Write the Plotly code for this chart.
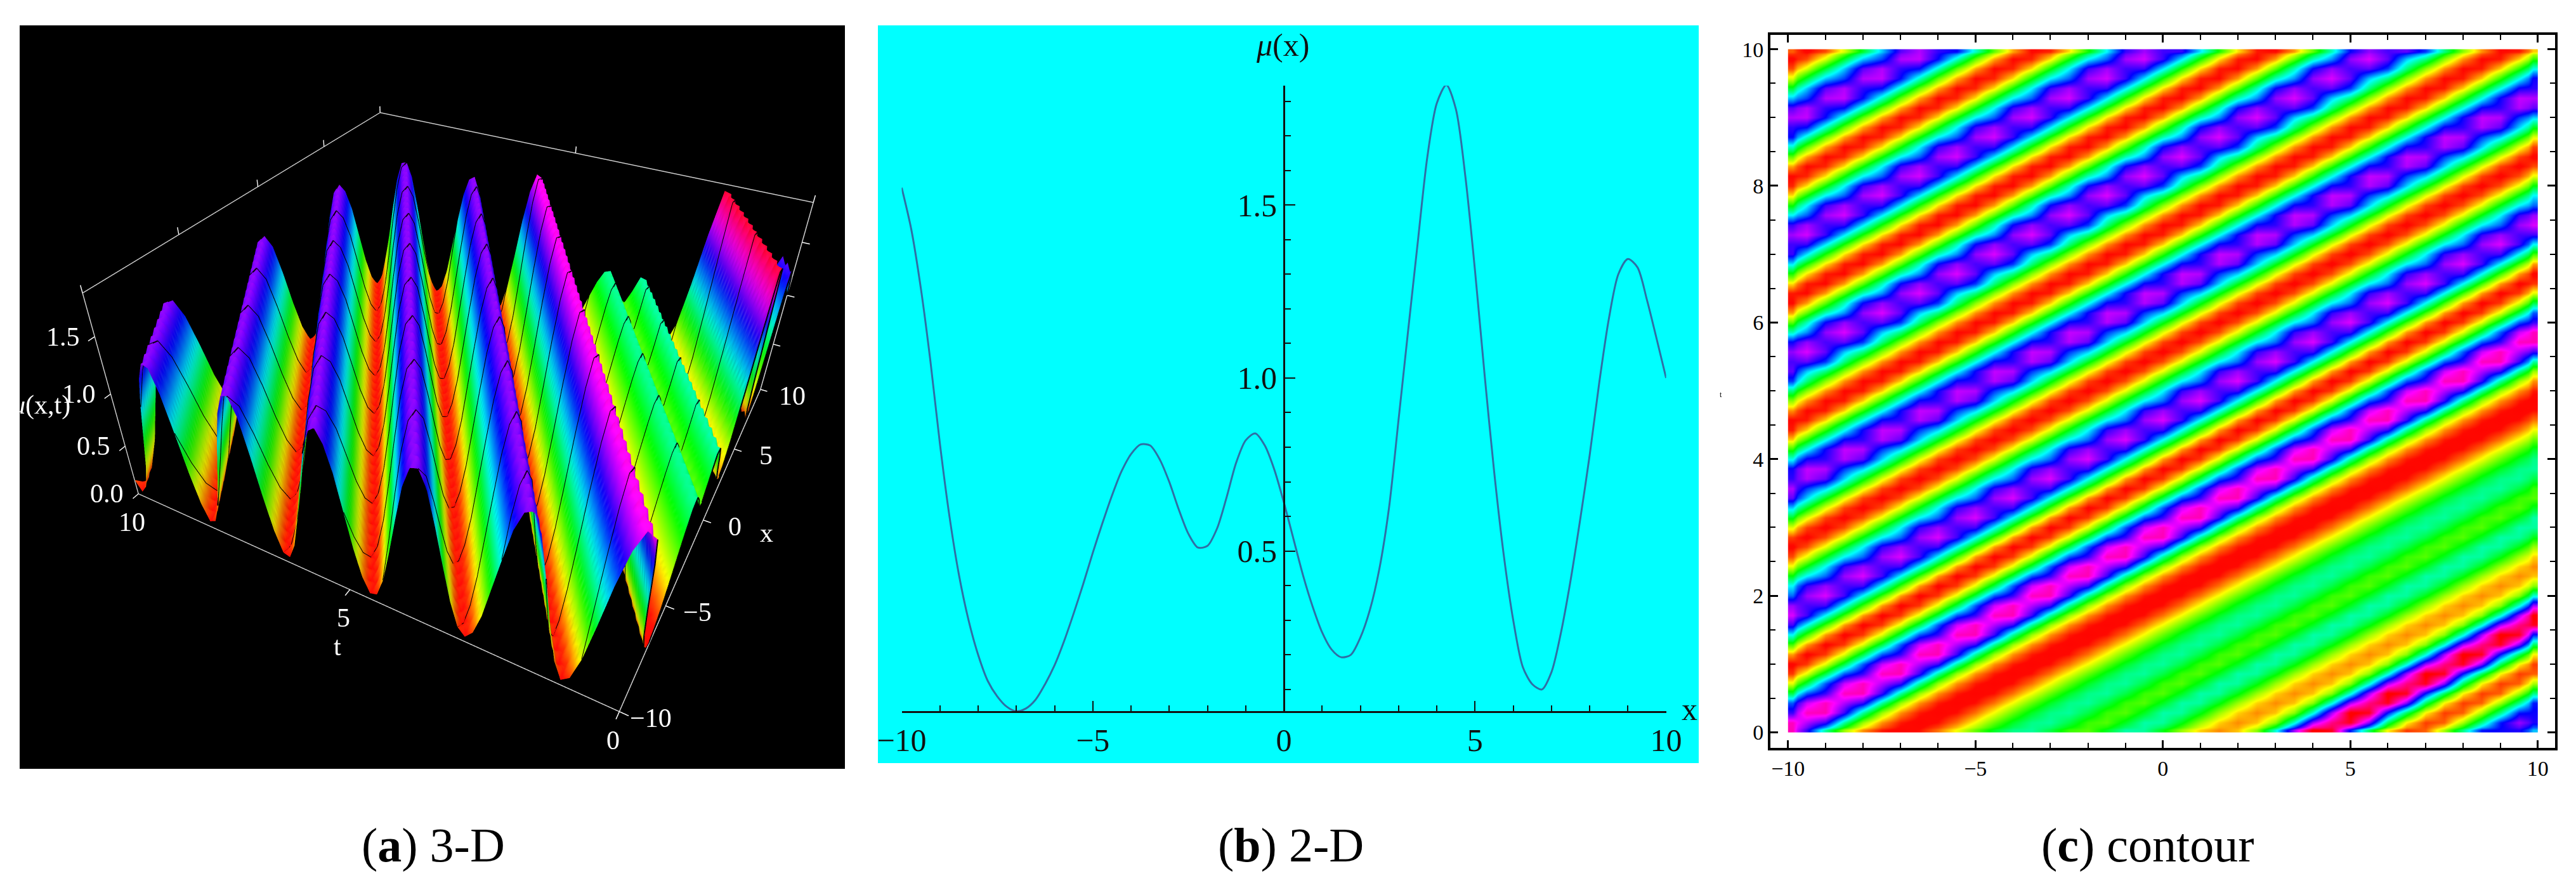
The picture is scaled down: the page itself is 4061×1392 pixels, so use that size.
import plotly.graph_objects as go

W, H = 4061, 1392

# mu(x), x = -10 ... 10 in steps of 0.25
curve_x = [i * 0.25 - 10 for i in range(81)]
curve_values = [1.55, 1.43, 1.26, 1.05, 0.81, 0.60, 0.43, 0.30, 0.20, 0.125, 0.08, 0.05,
                0.037, 0.045, 0.07, 0.115, 0.17, 0.24, 0.32, 0.405, 0.495, 0.58, 0.66, 0.73,
                0.78, 0.808, 0.805, 0.765, 0.70, 0.62, 0.55, 0.51, 0.515, 0.565, 0.655, 0.755,
                0.82, 0.84, 0.805, 0.735, 0.64, 0.535, 0.43, 0.34, 0.265, 0.215, 0.193, 0.20,
                0.25, 0.33, 0.45, 0.625, 0.88, 1.137, 1.39, 1.637, 1.794, 1.847, 1.777, 1.58,
                1.31, 1.01, 0.73, 0.49, 0.30, 0.165, 0.115, 0.10, 0.15, 0.265, 0.415, 0.59,
                0.777, 0.986, 1.17, 1.30, 1.344, 1.32, 1.225, 1.114, 1.0]
# heights read across the diagonal stripes of panel (c) that lie beyond the curve above
upstream_values = [0.15, 0.05, 0.13, 0.35, 0.67, 0.99, 1.26, 1.41, 1.39, 1.19, 0.86, 0.50, 0.22, 0.06,
                   0.09, 0.28, 0.60, 0.93, 1.22, 1.39, 1.41, 1.26, 0.95, 0.59, 0.28, 0.08,
                   0.06, 0.21, 0.50, 0.84, 1.16, 1.37, 1.42, 1.31, 1.09, 0.77, 0.45, 0.20, 0.06,
                   0.08, 0.26, 0.56, 0.90, 1.21, 1.39, 1.41, 1.27, 0.98, 0.65, 0.34, 0.12, 0.05,
                   0.13, 0.33, 0.63, 0.93, 1.21, 1.38, 1.42, 1.27, 0.92, 0.54, 0.21, 0.05,
                   0.11, 0.34, 0.70, 1.09, 1.40, 1.58]
# the dotted blue / purple texture seen along the ridge tops of panel (c)
ridge_texture = [0.08, 0.04, -0.10, 0.04]

x_values = curve_x[::2]
t_values = [k / 7 for k in range(71)]
# every cell takes its height from the stripe it sits on (stripes advance one sample per row)
band = upstream_values + curve_values[::2]
surface_grid = [[band[j - k + 70] for j in range(41)] for k in range(71)]
contour_grid = [[band[j - k + 70] + (ridge_texture[(j + k) % 4] if band[j - k + 70] > 1.0 else 0)
                 for j in range(41)] for k in range(71)]

x_edges = [-10] + [(x_values[i] + x_values[i + 1]) / 2 for i in range(40)] + [10]
t_edges = [0] + [(t_values[i] + t_values[i + 1]) / 2 for i in range(70)] + [10]

hue = [[0, '#ff0000'], [0.035, '#ff0800'], [1 / 6, '#ffff00'], [1 / 3, '#00ff00'], [1 / 2, '#00ffff'],
       [2 / 3, '#0000ff'], [5 / 6, '#ff00ff'], [1, '#ff0000']]
SERIF = 'Liberation Serif'
x_ticks = [-10, -5, 0, 5, 10]
x_tick_text = ['−10', '−5', '0', '5', '10']
t_ticks = [0, 5, 10]
z_ticks = [0, 0.5, 1.0, 1.5]
z_tick_text = ['0.0', '0.5', '1.0', '1.5']


def fx(px):
    return px / W


def fy(py):
    return 1 - py / H


fig = go.Figure()

# (a) 3-D: rows handed over in reverse so the facets follow the ridge direction
fig.add_trace(go.Surface(
    x=x_values, y=t_values[::-1], z=surface_grid[::-1], colorscale=hue, cmin=0, cmax=1.85, showscale=False,
    lighting=dict(ambient=0.85, diffuse=0.35, specular=0.05, roughness=0.8),
    lightposition=dict(x=-1000, y=-500, z=3000),
    scene='scene'))
# mesh lines at constant t
mesh_x, mesh_t, mesh_z = [], [], []
for k in range(0, 71, 5):
    mesh_x += x_values + [None]
    mesh_t += [t_values[k]] * 41 + [None]
    mesh_z += surface_grid[k] + [None]
fig.add_trace(go.Scatter3d(x=mesh_x, y=mesh_t, z=mesh_z, mode='lines', scene='scene',
                           line=dict(color='black', width=4), showlegend=False))

# (b) 2-D
fig.add_trace(go.Scatter(x=curve_x, y=curve_values, mode='lines', xaxis='x', yaxis='y',
                         line=dict(color='#2f6fa5', width=3, shape='spline', smoothing=0.8),
                         cliponaxis=False, showlegend=False))

# (c) contour
fig.add_trace(go.Heatmap(x=x_edges, y=t_edges, z=contour_grid, xaxis='x2', yaxis='y2', colorscale=hue,
                         zmin=0, zmax=1.85, zsmooth='best', showscale=False))


def axis3d(rng, ticks):
    return dict(title=dict(text=''), range=rng, tickvals=ticks, showticklabels=False,
                showbackground=False, showgrid=False, zeroline=False, showspikes=False,
                showline=True, linecolor='#d0d0d0', linewidth=3, mirror='all', ticks='outside',
                tickcolor='white', ticklen=10, tickwidth=3)


def label3d(text, x, y, z, xshift=0, yshift=0, size=42):
    return dict(text=text, x=x, y=y, z=z, xshift=xshift, yshift=yshift, showarrow=False,
                font=dict(family=SERIF, size=size, color='white'))


scene_labels = (
    [label3d(s, v, 0, 0, 50, -10) for v, s in zip(x_ticks, x_tick_text)]
    + [label3d(str(v), -10, v, 0, -10, -45) for v in t_ticks]
    + [label3d(s, -10, 10, v, -50, 0) for v, s in zip(z_ticks, z_tick_text)]
    + [label3d('x', 0, 0, 0, 100, -20), label3d('t', -10, 5, 0, -20, -90),
       label3d('<i>μ</i>(x,t)', -10, 10, 0.9, -115, 0)]
)


def note(text, px, py, size, color='black'):
    return dict(text=text, x=fx(px), y=fy(py), xref='paper', yref='paper', showarrow=False,
                xanchor='center', yanchor='middle', font=dict(family=SERIF, size=size, color=color))


fig.update_layout(
    template='none', width=W, height=H, margin=dict(l=0, r=0, t=0, b=0, pad=0), paper_bgcolor='white',
    plot_bgcolor='rgba(0,0,0,0)', showlegend=False,
    scene=dict(
        domain=dict(x=[fx(31), fx(1332)], y=[fy(1212), fy(40)]),
        bgcolor='black',
        xaxis=axis3d([-10, 10], x_ticks),
        yaxis=axis3d([0, 10], t_ticks),
        zaxis=axis3d([0, 1.85], z_ticks),
        aspectmode='manual', aspectratio=dict(x=1.02, y=1.08, z=0.5),
        camera=dict(eye=dict(x=-1.42, y=-0.685, z=1.095), up=dict(x=0, y=0, z=1),
                    center=dict(x=-0.05, y=0.075, z=-0.125)),
        annotations=scene_labels,
    ),
    xaxis=dict(domain=[fx(1421.5), fx(2626.6)], range=[-10, 10], anchor='free', position=fy(1122),
               automargin=False, tickvals=x_ticks, ticktext=x_tick_text,
               ticks='inside', ticklen=16, tickwidth=2, tickcolor='#111', showline=True, linecolor='#111',
               linewidth=3, showgrid=False, zeroline=False, tickfont=dict(family=SERIF, size=50, color='#111'),
               minor=dict(tickvals=list(range(-10, 11)), ticks='inside', ticklen=9, tickwidth=2,
                          tickcolor='#111', showgrid=False)),
    yaxis=dict(domain=[fy(1122), fy(135)], range=[0.0356, 1.845], anchor='free', position=fx(2024),
               automargin=False, tickvals=[0.5, 1.0, 1.5], ticktext=['0.5', '1.0', '1.5'],
               ticks='inside', ticklen=16, tickwidth=2, tickcolor='#111', showline=True, linecolor='#111',
               linewidth=3, showgrid=False, zeroline=False, tickfont=dict(family=SERIF, size=50, color='#111'),
               minor=dict(tickvals=[i / 10 for i in range(1, 19)], ticks='inside', ticklen=9, tickwidth=2,
                          tickcolor='#111', showgrid=False)),
    xaxis2=dict(domain=[fx(2791), fx(4028)], range=[-10.47, 10.46], anchor='y2', automargin=False,
                tickvals=x_ticks, ticktext=x_tick_text,
                ticks='inside', ticklen=12, tickwidth=3, tickcolor='black', showline=True, linecolor='black',
                linewidth=4, mirror='ticks', showgrid=False, zeroline=False,
                tickfont=dict(family=SERIF, size=34, color='black'),
                minor=dict(tickvals=list(range(-10, 11)), ticks='inside', ticklen=8, tickwidth=2,
                           tickcolor='black', showgrid=False)),
    yaxis2=dict(domain=[fy(1178.5), fy(55)], range=[-0.223, 10.21], anchor='x2', automargin=False,
                tickvals=[0, 2, 4, 6, 8, 10], ticks='inside', ticklen=12, tickwidth=3, tickcolor='black',
                showline=True, linecolor='black', linewidth=4, mirror='ticks', showgrid=False, zeroline=False,
                tickfont=dict(family=SERIF, size=34, color='black'),
                minor=dict(tickvals=[i / 2 for i in range(21)], ticks='inside', ticklen=8, tickwidth=2,
                           tickcolor='black', showgrid=False)),
    shapes=[
        dict(type='rect', xref='paper', yref='paper', x0=fx(1384), x1=fx(2678), y0=fy(1203), y1=fy(40),
             fillcolor='#00ffff', line=dict(width=0), layer='below'),
        dict(type='rect', xref='paper', yref='paper', x0=fx(31), x1=fx(1332), y0=fy(1212), y1=fy(40),
             fillcolor='black', line=dict(width=0), layer='below'),
    ],
    annotations=[
        note('<i>μ</i>(x)', 2022, 71, 50, '#111'),
        note('x', 2663, 1118, 50, '#111'),
        note('t', 2713, 622, 12),
        note('(<b>a</b>) 3-D', 683, 1332, 76),
        note('(<b>b</b>) 2-D', 2035, 1332, 76),
        note('(<b>c</b>) contour', 3386, 1332, 76),
    ],
)

fig.write_html('out.html', config={'displayModeBar': False},
               post_script="document.body.style.margin='0';document.body.style.overflow='hidden';")
